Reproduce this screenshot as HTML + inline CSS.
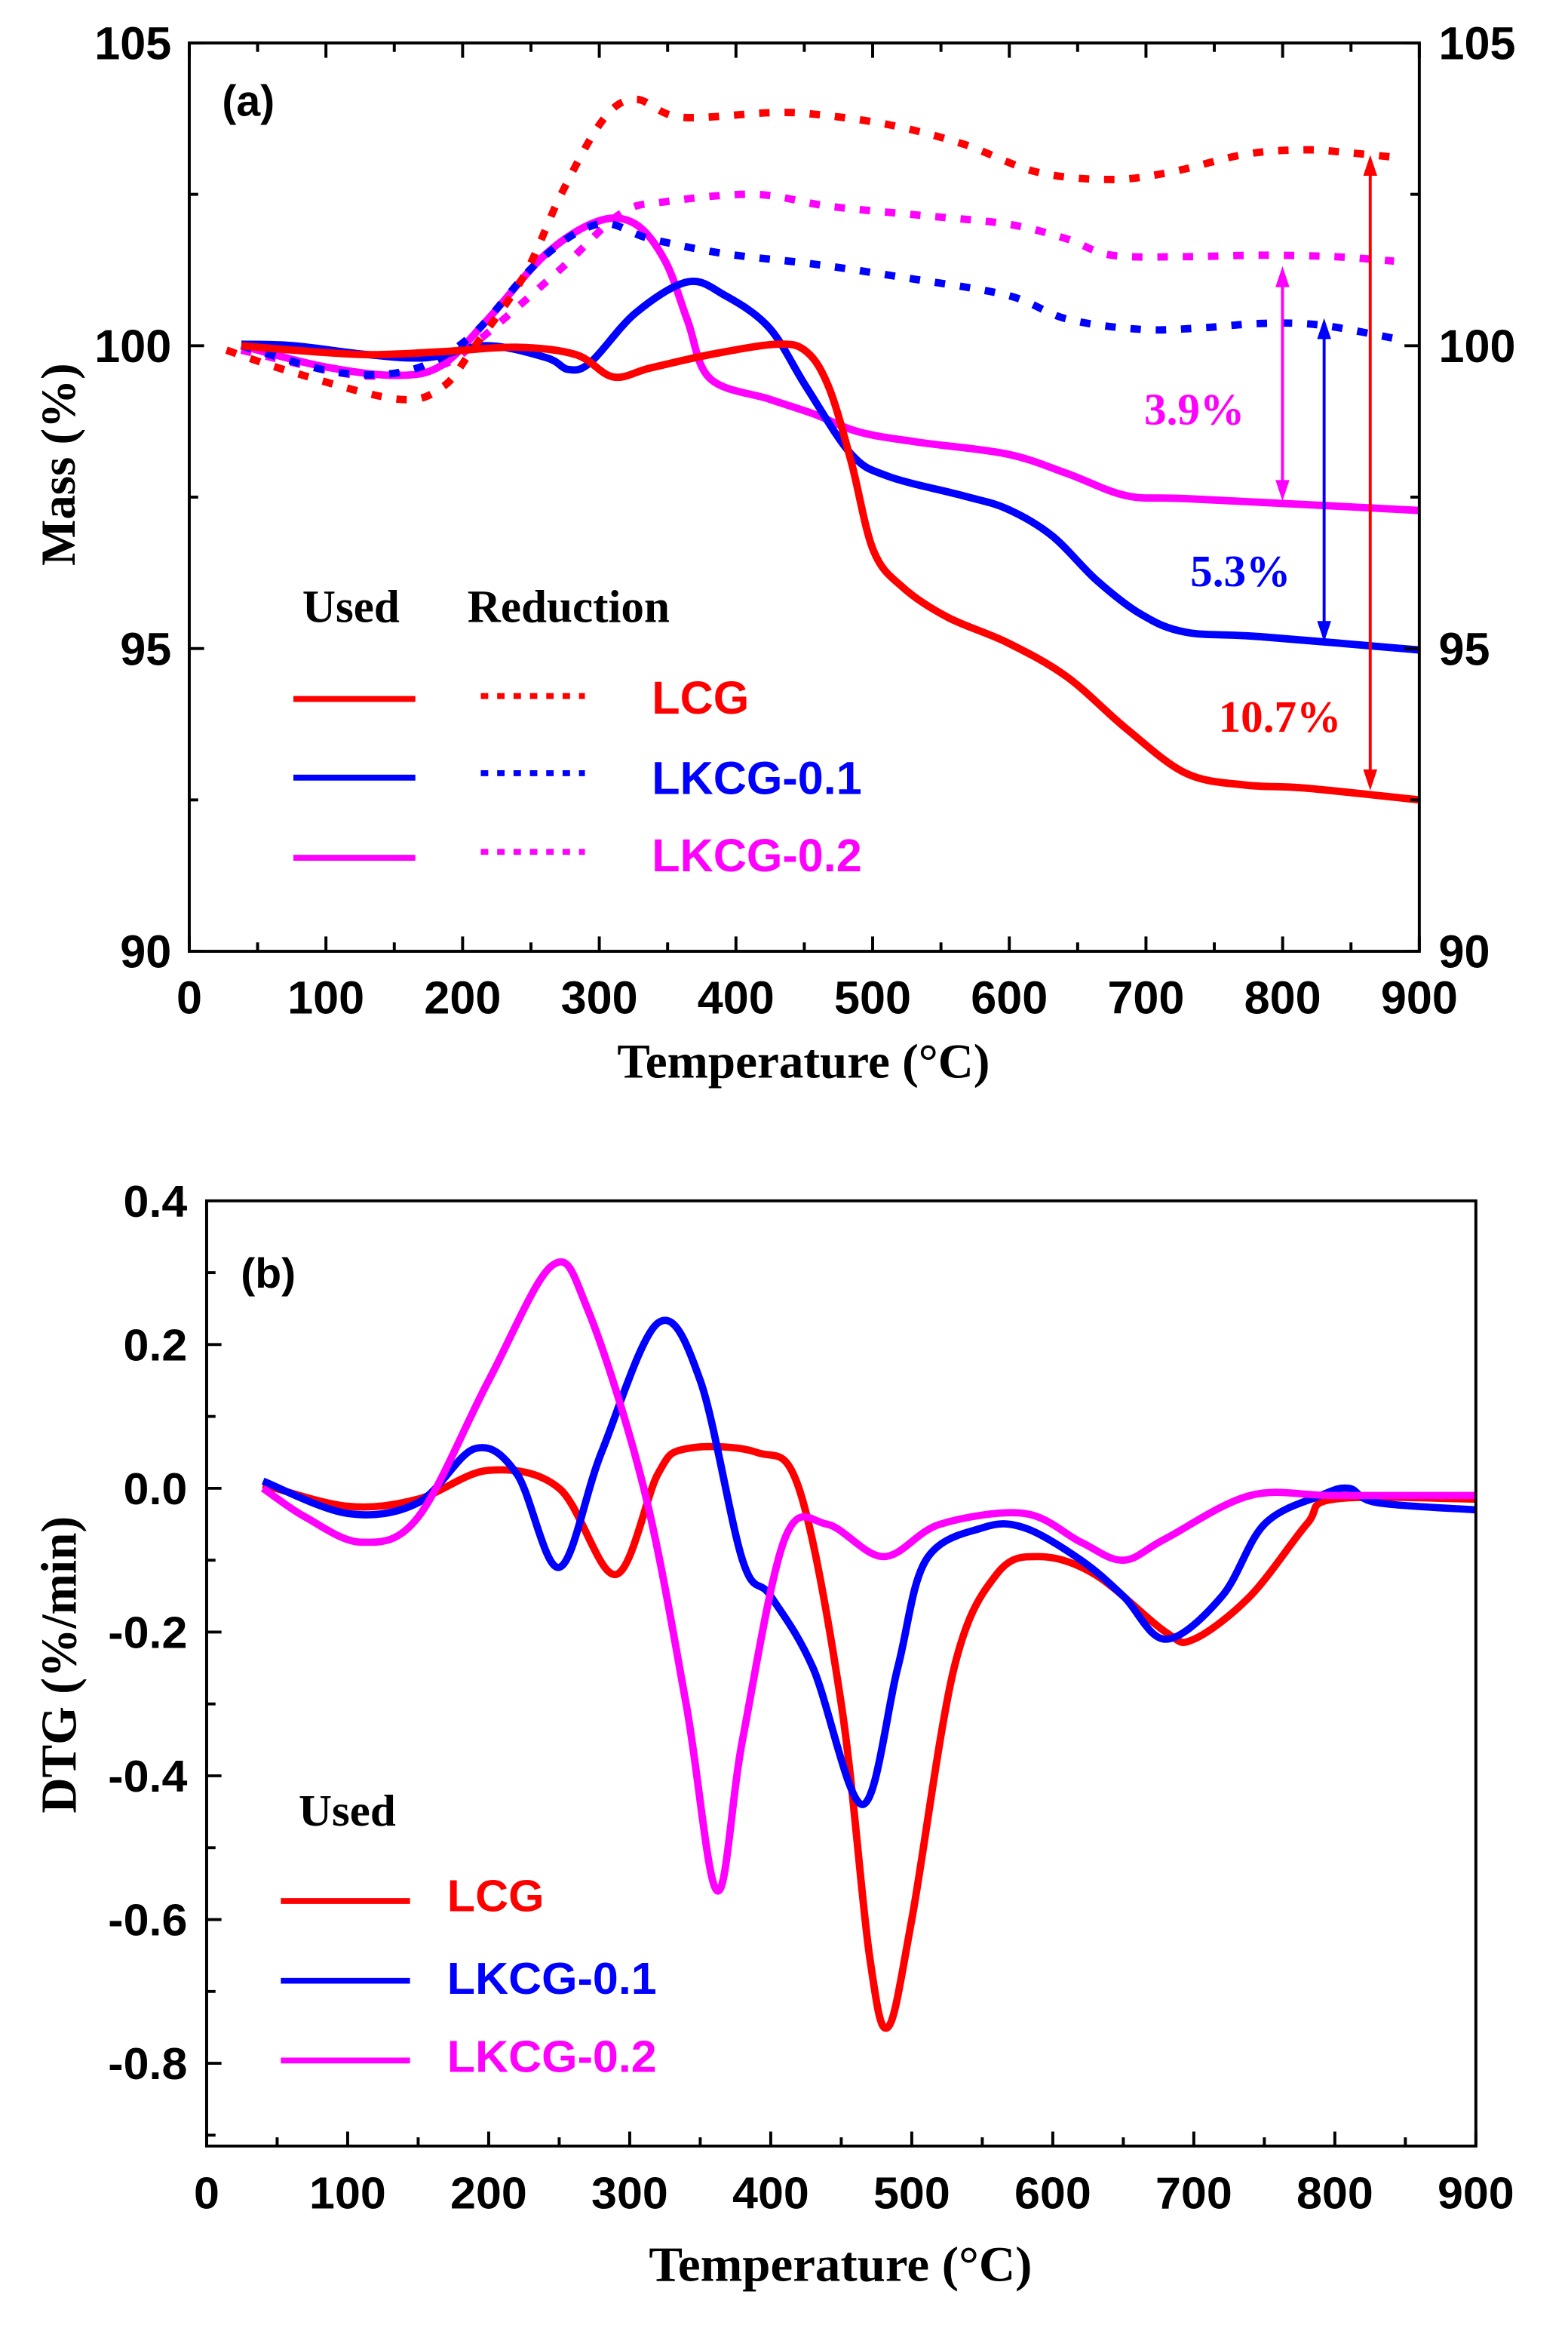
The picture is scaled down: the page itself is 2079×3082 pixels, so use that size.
<!DOCTYPE html>
<html><head><meta charset="utf-8">
<style>
html,body{margin:0;padding:0;background:#fff;}
svg{display:block;}
.s{font-family:"Liberation Sans",sans-serif;font-weight:bold;}
.r{font-family:"Liberation Serif",serif;font-weight:bold;}
</style></head><body>
<svg id="c" width="2079" height="3082" viewBox="0 0 1048 1553.6" preserveAspectRatio="none" xmlns="http://www.w3.org/2000/svg">
<rect width="1048" height="1553.6" fill="#fff"/>
<g id="pa" transform="translate(-2.73,0.93) scale(0.9941,0.9918)">
<g id="ga"></g>
<rect x="130" y="28" width="827" height="612" fill="none" stroke="#000" stroke-width="2"/>
<g class="s" font-size="31" text-anchor="end">
<text x="118" y="39">105</text><text x="118" y="243">100</text><text x="118" y="447">95</text><text x="118" y="651">90</text>
</g>
<g class="s" font-size="31" text-anchor="start">
<text x="970" y="39">105</text><text x="970" y="243">100</text><text x="970" y="447">95</text><text x="970" y="651">90</text>
</g>
<g class="s" font-size="31" text-anchor="middle" id="xa"></g>
<text class="r" font-size="33" x="543" y="725" text-anchor="middle">Temperature (°C)</text>
<text class="r" font-size="33" transform="translate(53,312) rotate(-90)" text-anchor="middle">Mass (%)</text>
<text class="s" font-size="29" x="152" y="77">(a)</text>
<text class="r" font-size="31" x="206" y="418">Used</text>
<text class="r" font-size="31" x="317" y="418">Reduction</text>
<line x1="200" y1="470" x2="282" y2="470" stroke="#f00" stroke-width="4"/>
<line x1="200" y1="523" x2="282" y2="523" stroke="#00f" stroke-width="4"/>
<line x1="200" y1="577" x2="282" y2="577" stroke="#f0f" stroke-width="4"/>
<line x1="326" y1="468" x2="396" y2="468" stroke="#f00" stroke-width="4" stroke-dasharray="5,6"/>
<line x1="326" y1="520" x2="396" y2="520" stroke="#00f" stroke-width="4" stroke-dasharray="5,6"/>
<line x1="326" y1="573" x2="396" y2="573" stroke="#f0f" stroke-width="4" stroke-dasharray="5,6"/>
<text class="s" font-size="31" x="441" y="480" fill="#f00">LCG</text>
<text class="s" font-size="31" x="441" y="534" fill="#00f">LKCG-0.1</text>
<text class="s" font-size="31" x="441" y="586" fill="#f0f">LKCG-0.2</text>
<text class="r" font-size="30" x="772" y="285" fill="#f0f">3.9%</text>
<text class="r" font-size="30" x="803" y="394" fill="#00f">5.3%</text>
<text class="r" font-size="30" x="822" y="492" fill="#f00">10.7%</text>
</g>
<g id="pb" transform="translate(-0.81,32.3) scale(0.9922,0.9687)">
<g id="gb"></g>
<rect x="140" y="795" width="855" height="652" fill="none" stroke="#000" stroke-width="2"/>
<g class="s" font-size="31" text-anchor="end" id="yb"></g>
<g class="s" font-size="31" text-anchor="middle" id="xb"></g>
<text class="r" font-size="34" x="567" y="1540" text-anchor="middle">Temperature (°C)</text>
<text class="r" font-size="34" transform="translate(52,1115) rotate(-90)" text-anchor="middle">DTG (%/min)</text>
<text class="s" font-size="29" x="163" y="855">(b)</text>
<text class="r" font-size="31" x="202" y="1226">Used</text>
<line x1="190" y1="1278" x2="277" y2="1278" stroke="#f00" stroke-width="4"/>
<line x1="190" y1="1333" x2="277" y2="1333" stroke="#00f" stroke-width="4"/>
<line x1="190" y1="1388" x2="277" y2="1388" stroke="#f0f" stroke-width="4"/>
<text class="s" font-size="31" x="302" y="1285" fill="#f00">LCG</text>
<text class="s" font-size="31" x="302" y="1342" fill="#00f">LKCG-0.1</text>
<text class="s" font-size="31" x="302" y="1396" fill="#f0f">LKCG-0.2</text>
</g>
</svg>
<script>
var NS="http://www.w3.org/2000/svg",ga=document.getElementById('ga'),gb=document.getElementById('gb');
function el(t,a,p){var e=document.createElementNS(NS,t);for(var k in a)e.setAttribute(k,a[k]);p.appendChild(e);return e;}
function smooth(p){var d="M"+p[0][0]+","+p[0][1];for(var i=0;i<p.length-1;i++){var p0=p[i-1]||p[i],p1=p[i],p2=p[i+1],p3=p[i+2]||p2;
d+=" C"+(p1[0]+(p2[0]-p0[0])/6)+","+(p1[1]+(p2[1]-p0[1])/6)+" "+(p2[0]-(p3[0]-p1[0])/6)+","+(p2[1]-(p3[1]-p1[1])/6)+" "+p2[0]+","+p2[1];}return d;}
function pts(s){return s.trim().split(/\s+/).map(function(q){return q.split(',').map(Number);});}
var A=[
["#f0f",0,"165,232 220,246 270,252 300,245 330,215 370,170 405,148 430,150 450,175 465,215 480,254 520,268 550,278 580,290 620,297 680,305 720,318 760,333 800,335 900,340 957,343"],
["#00f",0,"165,231 200,232 250,238 290,240 330,232 370,240 385,248 400,243 430,210 465,189 490,198 520,220 545,260 575,305 600,320 650,333 680,342 710,360 740,390 770,413 800,425 850,428 957,437"],
["#f0f",1,"165,235 230,250 262,252 300,245 325,228 380,180 420,143 450,135 510,130 560,138 620,144 680,150 720,160 750,171 800,172 850,171 900,172 940,175"],
["#00f",1,"165,232 230,250 280,248 320,225 365,175 405,150 440,160 490,170 550,177 610,186 680,198 720,214 770,221 810,220 850,217 890,218 940,227"],
["#f00",1,"155,235 200,250 270,268 300,260 320,235 355,185 380,130 408,80 430,66 460,78 520,75 550,76 600,83 650,96 700,115 750,120 790,115 840,103 880,100 910,102 940,105"],
["#f00",0,"165,232 200,235 250,238 300,236 350,233 390,238 415,253 440,247 480,238 525,231 545,236 560,260 575,310 590,370 610,395 640,415 680,432 720,455 760,490 800,520 840,528 880,530 957,538"]
];
A.forEach(function(c){var a={d:smooth(pts(c[2])),fill:"none",stroke:c[0],"stroke-width":5};if(c[1]){a["stroke-dasharray"]="7,10";}el("path",a,ga);});
function arrow(x,y1,y2,col){el("line",{x1:x,y1:y1+8,x2:x,y2:y2-8,stroke:col,"stroke-width":2},ga);
el("path",{d:"M"+(x-4)+","+(y1+12)+" L"+x+","+y1+" L"+(x+4)+","+(y1+12)+"Z",fill:col,stroke:col},ga);
el("path",{d:"M"+(x-4)+","+(y2-12)+" L"+x+","+y2+" L"+(x+4)+","+(y2-12)+"Z",fill:col,stroke:col},ga);}
arrow(865,180,335,"#f0f");arrow(893,215,430,"#00f");arrow(924,105,530,"#f00");
var xa=document.getElementById('xa');
for(var t=0;t<=900;t+=50){var x=130+t*827/900;var L=t%100?6:10;
el("line",{x1:x,y1:640,x2:x,y2:640-L,stroke:"#000","stroke-width":2},ga);el("line",{x1:x,y1:28,x2:x,y2:28+L,stroke:"#000","stroke-width":2},ga);
if(t%100==0){var e=el("text",{x:x,y:682},xa);e.textContent=t;}}
for(var m=90;m<=105;m+=2.5){var y=28+(105-m)*40.8;var L=(m%5)?6:10;
el("line",{x1:130,y1:y,x2:130+L,y2:y,stroke:"#000","stroke-width":2},ga);el("line",{x1:957,y1:y,x2:957-L,y2:y,stroke:"#000","stroke-width":2},ga);}
// panel b (old coords inside transform)
function B(t,v){return [140+t*855/900,993.3-495.8*v];}
var Bd=[
["#f00","40,0.005 100,-0.025 150,-0.015 200,0.025 250,0 290,-0.12 320,0.02 340,0.055 390,0.05 420,0 450,-0.3 470,-0.65 483,-0.75 500,-0.6 530,-0.25 560,-0.12 590,-0.095 630,-0.12 680,-0.2 700,-0.21 740,-0.15 780,-0.05 800,-0.015 900,-0.015"],
["#00f","40,0.01 100,-0.035 150,-0.02 190,0.055 220,0.02 250,-0.11 280,0.05 320,0.23 350,0.15 380,-0.1 400,-0.15 430,-0.25 465,-0.44 490,-0.25 510,-0.1 550,-0.055 580,-0.055 620,-0.1 650,-0.15 680,-0.21 720,-0.15 750,-0.05 790,-0.01 810,0 830,-0.02 900,-0.03"],
["#f0f","40,0 70,-0.04 110,-0.075 150,-0.04 200,0.15 245,0.31 270,0.25 310,0 340,-0.3 362,-0.56 380,-0.35 410,-0.07 440,-0.05 480,-0.095 520,-0.05 580,-0.035 620,-0.075 650,-0.1 680,-0.07 740,-0.01 800,-0.01 900,-0.01"]];
Bd.forEach(function(c){var p=pts(c[1]).map(function(q){return B(q[0],q[1]);});el("path",{d:smooth(p),fill:"none",stroke:c[0],"stroke-width":5},gb);});
var xb=document.getElementById('xb'),yb=document.getElementById('yb');
for(var t=0;t<=900;t+=50){var x=140+t*855/900;var L=t%100?6:10;
el("line",{x1:x,y1:1447,x2:x,y2:1447-L,stroke:"#000","stroke-width":2},gb);
if(t%100==0){var e=el("text",{x:x,y:1490},xb);e.textContent=t;}}
for(var k=-9;k<=4;k++){var y=993.3-495.8*k*0.1;var L=(k%2)?6:10;if(y>1447||y<794)continue;
if(k<4)el("line",{x1:140,y1:y,x2:140+L,y2:y,stroke:"#000","stroke-width":2},gb);
if(k%2==0&&k>=-8){var e=el("text",{x:127,y:y+11},yb);e.textContent=(k/10).toFixed(1);}}
</script>
</body></html>
